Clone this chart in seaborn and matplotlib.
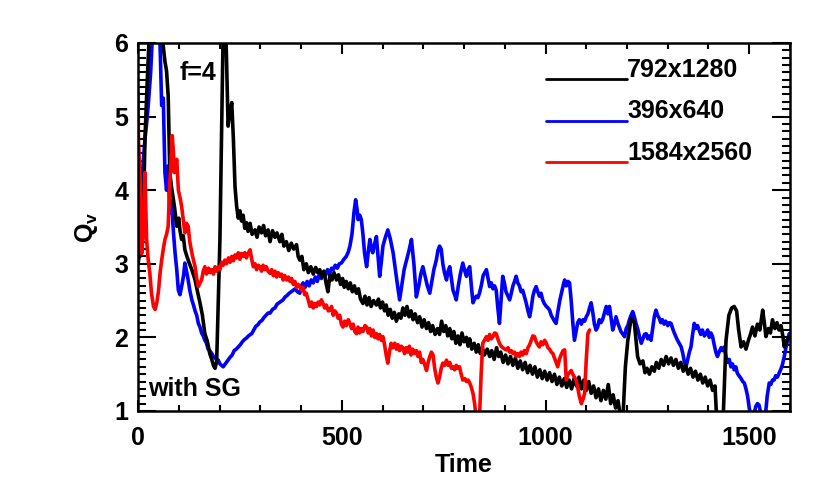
import numpy as np
import pandas as pd
import matplotlib
matplotlib.use("Agg")
import matplotlib.pyplot as plt
from matplotlib.legend_handler import HandlerLine2D
from matplotlib.ticker import MultipleLocator
import seaborn as sns

# 792x1280 run (black)
t_black = [0, 8, 13, 17, 22, 29, 40, 52, 61, 66, 70, 74, 78, 82, 86, 90, 95, 100, 103, 107,
           111, 115, 120, 125, 132, 136, 140, 146, 152, 158, 164, 170, 176, 181, 185, 189, 193, 197, 201, 205,
           209, 213, 217, 221, 225, 230, 234, 238, 242, 246, 250, 254, 258, 262, 266, 270, 275, 280, 287, 292,
           297, 303, 308, 313, 319, 324, 330, 336, 341, 348, 353, 358, 364, 370, 376, 382, 389, 393, 397, 402,
           407, 413, 418, 424, 430, 436, 441, 446, 451, 456, 461, 466, 471, 476, 481, 487, 492, 497, 502, 506,
           511, 516, 521, 526, 531, 536, 541, 546, 552, 557, 562, 567, 572, 578, 585, 590, 595, 600, 605, 609,
           614, 619, 624, 629, 634, 640, 645, 650, 655, 660, 665, 670, 675, 680, 686, 691, 697, 702, 708, 713,
           718, 723, 729, 735, 740, 745, 750, 755, 760, 765, 770, 775, 780, 785, 790, 795, 800, 806, 810, 814,
           819, 825, 830, 835, 840, 845, 850, 857, 863, 868, 874, 880, 885, 890, 896, 902, 908, 914, 920, 926,
           932, 938, 944, 950, 956, 962, 968, 974, 980, 986, 992, 998, 1004, 1010, 1016, 1022, 1028, 1034, 1040, 1046,
           1052, 1058, 1064, 1070, 1076, 1082, 1088, 1094, 1100, 1106, 1112, 1118, 1124, 1130, 1136, 1142, 1148, 1154, 1160, 1166,
           1172, 1178, 1184, 1190, 1196, 1202, 1210, 1218, 1226, 1232, 1239, 1244, 1249, 1255, 1261, 1267, 1272, 1278, 1284, 1290,
           1296, 1302, 1308, 1314, 1320, 1326, 1332, 1338, 1344, 1350, 1356, 1362, 1368, 1374, 1380, 1386, 1392, 1398, 1404, 1410,
           1416, 1420, 1436, 1443, 1450, 1457, 1463, 1469, 1474, 1480, 1486, 1492, 1498, 1503, 1508, 1514, 1520, 1526, 1533, 1537,
           1541, 1547, 1552, 1557, 1563, 1568, 1573, 1578, 1583, 1586, 1592, 1598]
q_black = [3.0, 3.3, 3.6, 4.7, 5.4, 6.3, 7.0, 6.8, 6.0, 5.75, 5.62, 5.28, 4.24, 4.05, 3.9, 3.75, 3.51, 3.62, 3.45, 3.33,
           3.38, 3.19, 3.10, 3.02, 2.92, 2.85, 2.78, 2.62, 2.47, 2.30, 2.05, 1.95, 1.78, 1.70, 1.62, 1.58, 1.67, 2.5, 3.33, 4.8,
           6.2, 6.5, 5.83, 4.87, 5.05, 5.19, 4.7, 4.05, 3.78, 3.62, 3.72, 3.58, 3.66, 3.48, 3.56, 3.44, 3.55, 3.40, 3.46, 3.36,
           3.50, 3.42, 3.52, 3.38, 3.46, 3.30, 3.45, 3.36, 3.42, 3.30, 3.40, 3.24, 3.30, 3.18, 3.28, 3.20, 3.26, 3.10, 3.05, 3.10,
           2.92, 3.00, 2.88, 2.96, 2.86, 2.95, 2.88, 2.92, 2.82, 2.90, 2.75, 2.62, 2.85, 2.78, 2.88, 2.78, 2.85, 2.72, 2.80, 2.68,
           2.76, 2.66, 2.74, 2.62, 2.70, 2.60, 2.66, 2.52, 2.46, 2.56, 2.44, 2.54, 2.42, 2.50, 2.44, 2.52, 2.40, 2.48, 2.36, 2.44,
           2.30, 2.38, 2.26, 2.34, 2.22, 2.32, 2.26, 2.40, 2.30, 2.42, 2.28, 2.36, 2.24, 2.32, 2.20, 2.28, 2.14, 2.24, 2.12, 2.20,
           2.08, 2.16, 2.04, 2.12, 2.04, 2.22, 2.08, 2.16, 2.02, 2.12, 1.98, 2.08, 1.92, 2.02, 1.90, 2.06, 1.94, 2.00, 1.88, 1.98,
           1.84, 1.92, 1.80, 1.90, 1.78, 1.86, 1.76, 1.84, 1.74, 1.82, 1.70, 1.86, 1.74, 1.80, 1.66, 1.76, 1.64, 1.74, 1.62, 1.72,
           1.58, 1.68, 1.56, 1.66, 1.52, 1.62, 1.50, 1.60, 1.46, 1.56, 1.44, 1.54, 1.42, 1.52, 1.40, 1.50, 1.36, 1.46, 1.34, 1.44,
           1.32, 1.42, 1.30, 1.44, 1.34, 1.46, 1.30, 1.42, 1.28, 1.40, 1.24, 1.34, 1.18, 1.30, 1.14, 1.28, 1.16, 1.36, 1.10, 1.22,
           1.04, 1.14, 0.92, 0.90, 1.6, 1.96, 2.26, 2.20, 1.74, 1.64, 1.68, 1.52, 1.58, 1.50, 1.60, 1.54, 1.66, 1.58, 1.70, 1.62,
           1.74, 1.64, 1.72, 1.62, 1.70, 1.58, 1.66, 1.54, 1.62, 1.50, 1.58, 1.46, 1.54, 1.42, 1.50, 1.38, 1.46, 1.34, 1.42, 1.28,
           1.34, 0.90, 0.90, 1.96, 2.30, 2.40, 2.42, 2.36, 2.10, 1.87, 1.94, 1.84, 1.96, 2.04, 2.14, 2.02, 2.18, 2.10, 2.37, 2.20,
           2.01, 2.12, 2.06, 2.24, 2.12, 2.20, 2.10, 2.16, 2.00, 1.87, 1.96, 2.0]

# 396x640 run (blue)
t_blue = [0, 3, 5, 9, 13, 17, 21, 25, 31, 37, 45, 52, 56, 58, 62, 66, 70, 74, 78, 82,
          87, 91, 95, 99, 103, 108, 112, 115, 119, 123, 127, 132, 136, 140, 144, 148, 152, 156, 160, 164,
          168, 172, 176, 181, 185, 189, 193, 197, 201, 205, 209, 213, 217, 221, 226, 231, 236, 241, 246, 251,
          256, 261, 266, 271, 276, 279, 284, 289, 294, 299, 304, 309, 314, 319, 324, 330, 336, 341, 346, 351,
          356, 361, 366, 371, 376, 381, 386, 391, 397, 401, 405, 410, 415, 420, 425, 430, 435, 440, 445, 450,
          455, 460, 465, 470, 475, 479, 484, 489, 494, 499, 505, 511, 516, 520, 525, 530, 534, 538, 540, 544,
          548, 552, 556, 561, 565, 569, 573, 576, 581, 585, 589, 593, 597, 601, 607, 613, 619, 626, 632, 637,
          642, 647, 653, 659, 665, 671, 677, 683, 689, 694, 699, 704, 710, 716, 721, 726, 732, 736, 740, 744,
          748, 752, 757, 761, 765, 769, 773, 777, 781, 786, 791, 797, 802, 806, 810, 814, 818, 822, 826, 830,
          834, 838, 843, 847, 851, 855, 859, 863, 867, 871, 875, 879, 883, 887, 891, 895, 899, 903, 908, 912,
          916, 920, 924, 928, 932, 936, 940, 944, 948, 952, 957, 961, 965, 969, 973, 977, 981, 985, 989, 993,
          997, 1002, 1006, 1010, 1014, 1018, 1022, 1026, 1030, 1035, 1040, 1044, 1047, 1051, 1055, 1059, 1063, 1067, 1071, 1075,
          1079, 1083, 1088, 1092, 1096, 1100, 1104, 1108, 1112, 1116, 1120, 1124, 1128, 1132, 1136, 1140, 1145, 1149, 1153, 1157,
          1161, 1165, 1169, 1173, 1177, 1181, 1185, 1190, 1194, 1198, 1202, 1206, 1210, 1214, 1218, 1222, 1227, 1231, 1235, 1239,
          1243, 1247, 1251, 1255, 1259, 1263, 1267, 1271, 1275, 1279, 1283, 1287, 1291, 1295, 1300, 1304, 1308, 1312, 1316, 1320,
          1324, 1328, 1333, 1337, 1341, 1345, 1349, 1353, 1357, 1361, 1365, 1369, 1373, 1377, 1381, 1385, 1390, 1394, 1398, 1402,
          1406, 1410, 1414, 1418, 1422, 1426, 1431, 1435, 1439, 1443, 1447, 1451, 1455, 1459, 1463, 1467, 1471, 1475, 1480, 1484,
          1488, 1492, 1496, 1500, 1504, 1510, 1516, 1520, 1524, 1528, 1533, 1540, 1544, 1549, 1553, 1557, 1561, 1565, 1569, 1573,
          1577, 1581, 1586, 1590, 1594, 1598]
q_blue = [4.5, 3.6, 3.1, 4.05, 4.4, 4.69, 4.9, 5.15, 5.6, 6.3, 6.8, 6.4, 5.6, 5.15, 5.25, 4.24, 4.0, 4.33, 3.69, 3.85,
          3.42, 3.14, 2.92, 2.64, 2.58, 2.72, 2.85, 3.01, 2.90, 2.78, 2.64, 2.51, 2.44, 2.36, 2.30, 2.19, 2.14, 2.06, 2.02, 1.96,
          1.92, 1.84, 1.82, 1.78, 1.74, 1.72, 1.70, 1.69, 1.64, 1.62, 1.60, 1.63, 1.66, 1.69, 1.73, 1.76, 1.82, 1.84, 1.87, 1.90,
          1.94, 1.97, 1.99, 2.02, 2.04, 2.05, 2.10, 2.15, 2.17, 2.21, 2.23, 2.27, 2.30, 2.33, 2.33, 2.38, 2.40, 2.45, 2.47, 2.49,
          2.51, 2.55, 2.57, 2.60, 2.62, 2.64, 2.66, 2.62, 2.60, 2.70, 2.74, 2.68, 2.76, 2.70, 2.78, 2.74, 2.82, 2.76, 2.86, 2.80,
          2.87, 2.84, 2.92, 2.86, 2.94, 2.92, 2.98, 2.94, 3.00, 3.01, 3.06, 3.10, 3.16, 3.24, 3.40, 3.70, 3.87, 3.72, 3.60, 3.66,
          3.60, 3.40, 3.14, 2.96, 3.16, 3.33, 3.20, 3.15, 3.28, 3.37, 3.10, 2.83, 3.02, 3.24, 3.36, 3.46, 3.34, 3.15, 2.90, 2.70,
          2.51, 2.70, 2.92, 3.05, 3.18, 3.33, 3.00, 2.55, 2.70, 2.86, 2.96, 2.84, 2.70, 2.60, 2.76, 2.92, 3.05, 3.18, 3.24, 3.20,
          3.00, 2.88, 2.78, 2.90, 2.96, 2.80, 2.64, 2.58, 2.51, 2.70, 2.86, 3.01, 2.90, 2.83, 2.92, 2.96, 2.70, 2.47, 2.52, 2.56,
          2.54, 2.60, 2.72, 2.84, 2.88, 2.92, 2.80, 2.69, 2.74, 2.66, 2.70, 2.64, 2.40, 2.19, 2.50, 2.83, 2.74, 2.62, 2.56, 2.51,
          2.60, 2.70, 2.76, 2.83, 2.74, 2.70, 2.62, 2.64, 2.56, 2.48, 2.36, 2.28, 2.40, 2.56, 2.64, 2.69, 2.62, 2.56, 2.60, 2.51,
          2.46, 2.42, 2.40, 2.37, 2.30, 2.26, 2.22, 2.19, 2.34, 2.50, 2.62, 2.72, 2.78, 2.70, 2.76, 2.74, 2.50, 2.20, 1.96, 2.08,
          2.20, 2.24, 2.18, 2.24, 2.22, 2.28, 2.32, 2.40, 2.47, 2.34, 2.18, 2.10, 2.14, 2.24, 2.20, 2.24, 2.34, 2.42, 2.32, 2.42,
          2.26, 2.10, 2.18, 2.28, 2.20, 2.14, 2.08, 2.04, 2.01, 2.12, 2.16, 2.24, 2.30, 2.35, 2.28, 2.19, 2.10, 2.00, 1.92, 1.98,
          2.04, 2.05, 1.98, 2.02, 1.96, 2.12, 2.28, 2.37, 2.30, 2.26, 2.20, 2.24, 2.18, 2.22, 2.16, 2.20, 2.19, 2.12, 2.06, 2.01,
          1.96, 1.92, 1.87, 1.78, 1.66, 1.60, 1.70, 1.80, 1.87, 2.04, 2.19, 2.12, 2.16, 2.10, 2.04, 2.10, 2.02, 2.05, 2.10, 2.00,
          2.06, 2.01, 1.90, 1.80, 1.74, 1.80, 1.86, 1.82, 1.87, 1.74, 1.66, 1.70, 1.60, 1.64, 1.56, 1.60, 1.51, 1.48, 1.44, 1.40,
          1.38, 1.30, 1.20, 1.04, 0.94, 0.92, 1.06, 1.10, 1.08, 0.98, 0.92, 0.96, 1.20, 1.38, 1.36, 1.42, 1.42, 1.48, 1.46, 1.51,
          1.56, 1.62, 1.74, 1.86, 1.96, 2.05]

# 1584x2560 run (red)
t_red = [0, 1, 5, 9, 13, 17, 21, 25, 29, 33, 38, 42, 46, 50, 54, 58, 62, 66, 70, 74,
         78, 81, 84, 87, 89, 92, 95, 97, 99, 103, 107, 111, 115, 119, 123, 127, 132, 136, 140, 144,
         148, 152, 156, 160, 164, 168, 173, 177, 181, 185, 189, 193, 197, 201, 205, 209, 213, 217, 222, 226,
         230, 234, 238, 242, 246, 250, 254, 258, 262, 266, 270, 275, 279, 283, 287, 291, 295, 299, 303, 307,
         311, 315, 319, 324, 328, 332, 336, 340, 344, 348, 352, 356, 360, 365, 369, 373, 377, 381, 385, 389,
         393, 397, 401, 405, 409, 413, 418, 422, 426, 430, 434, 438, 442, 446, 450, 454, 458, 462, 467, 471,
         475, 479, 483, 487, 491, 495, 499, 503, 507, 511, 516, 520, 524, 528, 532, 536, 540, 544, 548, 552,
         557, 561, 565, 569, 573, 577, 581, 585, 589, 593, 597, 601, 605, 609, 613, 617, 621, 625, 630, 634,
         638, 642, 646, 650, 654, 658, 662, 666, 670, 674, 678, 683, 687, 691, 695, 699, 704, 708, 712, 716,
         720, 724, 728, 732, 736, 740, 744, 748, 752, 757, 761, 765, 769, 773, 777, 781, 785, 789, 793, 797,
         802, 806, 810, 814, 818, 822, 826, 830, 838, 842, 846, 850, 855, 859, 863, 867, 871, 875, 879, 883,
         887, 891, 895, 900, 904, 908, 912, 916, 920, 924, 928, 932, 936, 940, 944, 948, 953, 957, 961, 965,
         969, 973, 977, 981, 985, 989, 993, 998, 1002, 1006, 1010, 1014, 1018, 1022, 1026, 1030, 1034, 1038, 1043, 1047,
         1051, 1055, 1059, 1063, 1067, 1071, 1075, 1079, 1083, 1088, 1092, 1096, 1100, 1104, 1108]
q_red = [5.33, 4.69, 4.15, 3.14, 3.42, 4.24, 3.33, 3.05, 2.87, 2.60, 2.42, 2.38, 2.47, 2.62, 2.87, 3.05, 3.20, 3.33, 3.40, 3.51,
         4.10, 4.40, 4.74, 4.50, 4.24, 4.36, 4.42, 4.20, 4.00, 3.90, 3.78, 3.60, 3.42, 3.55, 3.51, 3.30, 3.15, 3.05, 2.96, 2.80,
         2.69, 2.74, 2.78, 2.90, 2.96, 2.86, 2.94, 2.88, 2.92, 2.86, 2.96, 2.90, 2.96, 2.92, 3.02, 2.98, 3.05, 3.00, 3.08, 3.02,
         3.10, 3.04, 3.12, 3.08, 3.15, 3.06, 3.14, 3.10, 3.15, 3.08, 3.14, 3.19, 3.06, 2.96, 3.00, 2.92, 2.98, 2.96, 2.90, 2.98,
         2.92, 2.96, 2.90, 2.87, 2.92, 2.84, 2.90, 2.82, 2.88, 2.83, 2.86, 2.78, 2.84, 2.78, 2.82, 2.76, 2.80, 2.72, 2.76, 2.68,
         2.72, 2.69, 2.64, 2.68, 2.58, 2.60, 2.50, 2.42, 2.48, 2.40, 2.46, 2.42, 2.48, 2.44, 2.51, 2.46, 2.40, 2.44, 2.36, 2.37,
         2.42, 2.30, 2.36, 2.33, 2.26, 2.30, 2.18, 2.14, 2.22, 2.16, 2.24, 2.19, 2.12, 2.18, 2.08, 2.05, 2.14, 2.06, 2.12, 2.08,
         2.16, 2.14, 2.06, 2.12, 2.02, 2.10, 2.00, 2.05, 1.98, 2.04, 1.96, 2.01, 1.90, 1.76, 1.65, 1.80, 1.92, 1.86, 1.92, 1.84,
         1.90, 1.82, 1.88, 1.86, 1.78, 1.86, 1.80, 1.88, 1.76, 1.84, 1.78, 1.82, 1.74, 1.80, 1.66, 1.70, 1.62, 1.55, 1.66, 1.74,
         1.80, 1.76, 1.58, 1.46, 1.38, 1.46, 1.58, 1.65, 1.62, 1.69, 1.62, 1.66, 1.58, 1.60, 1.56, 1.62, 1.58, 1.60, 1.50, 1.42,
         1.44, 1.40, 1.42, 1.38, 1.32, 1.24, 1.10, 0.90, 0.90, 1.50, 1.92, 1.96, 2.01, 1.96, 2.04, 1.98, 2.01, 2.06, 2.05, 1.98,
         1.92, 1.88, 1.86, 1.84, 1.83, 1.86, 1.80, 1.82, 1.78, 1.80, 1.74, 1.78, 1.74, 1.80, 1.76, 1.82, 1.78, 1.86, 1.90, 1.96,
         2.02, 2.01, 1.94, 1.90, 1.87, 1.94, 1.90, 1.96, 1.92, 1.86, 1.84, 1.80, 1.78, 1.72, 1.66, 1.60, 1.70, 1.76, 1.82, 1.83,
         1.42, 1.50, 1.52, 1.55, 1.50, 1.46, 1.42, 1.32, 1.20, 1.10, 1.16, 1.24, 1.70, 2.05, 2.10]

labels = ['792x1280', '396x640', '1584x2560']
colors = {'792x1280': 'black', '396x640': 'blue', '1584x2560': 'red'}
# drawing order: blue under black under red
draw_order = ['396x640', '792x1280', '1584x2560']
series = {'792x1280': (t_black, q_black),
          '396x640': (t_blue, q_blue),
          '1584x2560': (t_red, q_red)}


class BaselineLine(HandlerLine2D):
    # put the legend line on the text baseline, as in the original
    def create_artists(self, legend, orig_handle, xdescent, ydescent, width, height, fontsize, trans):
        artists = super().create_artists(legend, orig_handle, xdescent, ydescent, width, height, fontsize, trans)
        for a in artists:
            y = np.asarray(a.get_ydata(), dtype=float)
            a.set_ydata(np.full_like(y, -2.0))
        return artists


sns.set_theme(style='ticks')
plt.rcParams['font.family'] = ['Liberation Sans', 'DejaVu Sans']
plt.rcParams['font.weight'] = 'bold'
plt.rcParams['text.color'] = 'black'
plt.rcParams['axes.labelcolor'] = 'black'
plt.rcParams['xtick.color'] = 'black'
plt.rcParams['ytick.color'] = 'black'
plt.rcParams['mathtext.fontset'] = 'custom'
plt.rcParams['mathtext.bf'] = 'Liberation Sans:bold'
plt.rcParams['mathtext.rm'] = 'Liberation Sans:bold'

fig = plt.figure(figsize=(8.3, 4.99), dpi=100)
ax = fig.add_axes([0.1663, 0.1764, 0.7855, 0.7375])

for name in draw_order:
    t, q = series[name]
    df = pd.DataFrame({'Time': t, 'Q': q})
    sns.lineplot(data=df, x='Time', y='Q', ax=ax, color=colors[name], linewidth=2.6,
                 estimator=None, sort=False, label=name)

ax.set_xlim(0, 1600)
ax.set_ylim(1, 6)
ax.xaxis.set_major_locator(MultipleLocator(500))
ax.xaxis.set_minor_locator(MultipleLocator(100))
ax.yaxis.set_major_locator(MultipleLocator(1))
ax.yaxis.set_minor_locator(MultipleLocator(0.1))

for s in ax.spines.values():
    s.set_visible(True)
    s.set_linewidth(1.8)
    s.set_color('black')

ax.tick_params(which='both', direction='in', top=True, right=True, colors='black',
               labelcolor='black', width=1.5, labelsize=18)
ax.tick_params(axis='x', which='major', length=8, pad=11)
ax.tick_params(axis='x', which='minor', length=4)
ax.tick_params(axis='y', which='major', length=13, pad=7)
ax.tick_params(axis='y', which='minor', length=6)
for lab in ax.get_xticklabels() + ax.get_yticklabels():
    lab.set_fontweight('bold')

ax.set_xlabel('Time', fontsize=18, fontweight='bold', color='black', labelpad=2)
ax.set_ylabel(r'$\mathbf{Q_v}$', fontsize=18, color='black', labelpad=10)

ax.text(0.064, 0.918, 'f=4', transform=ax.transAxes, fontsize=18, fontweight='bold',
        color='black', va='center', ha='left')
ax.text(0.015, 0.06, 'with SG', transform=ax.transAxes, fontsize=18, fontweight='bold',
        color='black', va='center', ha='left')

leg_handles = []
for name in labels:
    h = plt.Line2D([], [], color=colors[name], linewidth=2.0)
    leg_handles.append(h)
leg = ax.legend(leg_handles, labels, loc='upper left', bbox_to_anchor=(0.626, 0.96), frameon=False,
                handlelength=3.24, handletextpad=0.0, borderpad=0.0, borderaxespad=0.0,
                labelspacing=0.7, handler_map={plt.Line2D: BaselineLine()},
                prop={'weight': 'bold', 'size': 18})
for txt in leg.get_texts():
    txt.set_color('black')

fig.savefig('out.png', dpi=100)
